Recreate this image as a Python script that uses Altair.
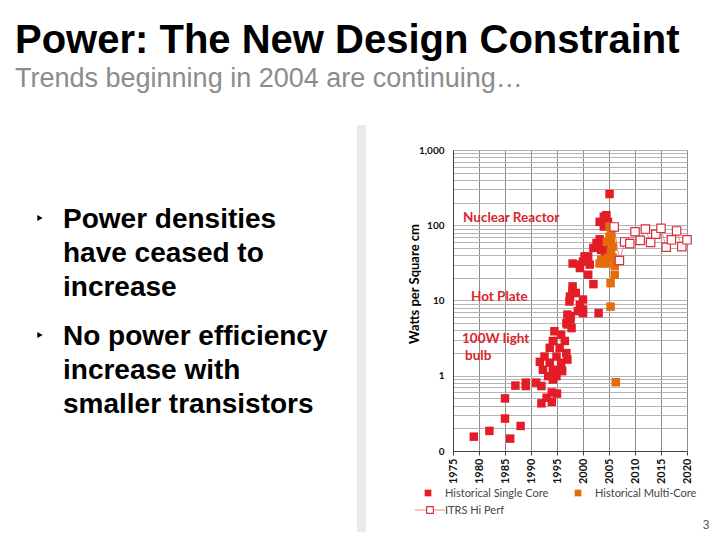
import altair as alt
import pandas as pd

# ---------------- data ----------------
single_year = [1979, 1982, 1986, 1988, 1985, 1985, 1987, 1989, 1989, 1991, 1992, 1992, 1993, 1994, 1994, 1995,
               1991.7, 1992.6, 1992.3, 1993.3, 1993.6, 1993.6, 1994.2, 1994.2, 1994.2, 1994.5, 1994.9, 1994.9,
               1995.5, 1995.8, 1995.8, 1995.8, 1996.5, 1996.8, 1996.8, 1997.0, 1997.6, 1997.8, 1997.0, 1997.6,
               1997.0, 1997.5, 1997.4, 1996.0, 1994.5,
               1998.0, 1998.0, 1998.0, 1998.6, 1999.4, 2000.0, 2000.0, 1999.0, 2000.0, 2003.0,
               1998.0, 1999.4, 1999.4, 2000.0, 2000.3, 2000.6, 2001.0, 2001.3, 2001.0, 2002.0, 2002.0, 2002.6,
               2003.2, 2003.2, 2004.0, 2004.5, 2004.8, 2005.1, 2004.2, 2003.5, 2004.0, 2004.0]
single_watts = [0.155, 0.185, 0.146, 0.215, 0.27, 0.50, 0.74, 0.81, 0.73, 0.81, 0.73, 0.43, 0.51, 0.60, 0.45, 0.58,
                1.53, 1.8, 1.2, 0.99, 1.49, 2.35, 0.89, 1.15, 2.9, 3.9, 0.99, 1.8,
                2.35, 1.2, 1.49, 3.5, 2.9, 2.0, 5.0, 1.64, 6.2, 4.3, 4.8, 5.6,
                6.5, 11.3, 9.7, 1.15, 1.2,
                12.6, 13.2, 15.4, 12.6, 8.8, 7.6, 10.3, 7.2, 6.8, 6.8,
                31, 27, 30, 33, 38.5, 34.8, 22, 30, 38.5, 16.5, 50, 58,
                65, 111, 130, 136, 111, 260, 40, 47, 52, 96]

multi_year = [2005.1, 2005.4, 2005.4, 2005.7, 2005.4, 2004.8, 2003.5, 2003.2, 2004.5, 2005.7, 2006.1, 2006.1,
              2005.3, 2005.3, 2006.3, 2005.1, 2004.6]
multi_watts = [96, 78, 64, 52, 45, 37, 35, 31, 31, 37, 29, 22, 17, 8.3, 0.82, 70, 60]

itrs_year = [2006, 2007, 2008, 2009, 2010, 2011, 2012, 2013, 2014, 2015, 2016, 2017, 2018, 2019, 2020]
itrs_watts = [95, 34, 60, 57, 82, 63, 89, 59, 76, 91, 51, 64, 84, 52, 64]

x_ticks = [1975, 1980, 1985, 1990, 1995, 2000, 2005, 2010, 2015, 2020]
y_grid = [0.1, 0.2, 0.3, 0.4, 0.5, 0.6, 0.7, 0.8, 0.9,
          1, 2, 3, 4, 5, 6, 7, 8, 9,
          10, 20, 30, 40, 50, 60, 70, 80, 90,
          100, 200, 300, 400, 500, 600, 700, 800, 900, 1000]

# ---------------- layout ----------------
W, H = 234, 301
OX, OY = 453, 150  # page position of the plot area's top-left corner

RED = "#e31c26"
ORANGE = "#e46c0a"
ITRS = "#d8313b"
CHART_FONT = "Lato"
SLIDE_FONT = "Liberation Sans"

df_single = pd.DataFrame({"year": single_year, "watts": single_watts})
df_multi = pd.DataFrame({"year": multi_year, "watts": multi_watts})
df_itrs = pd.DataFrame({"year": itrs_year, "watts": itrs_watts})

x_enc = alt.X("year:Q",
              scale=alt.Scale(domain=[1975, 2020], nice=False, zero=False),
              axis=alt.Axis(values=x_ticks, format="d", labelAngle=270, title=None,
                            grid=True, gridColor="#8c8c8c", gridWidth=1,
                            tickSize=4, tickColor="#444", domainColor="#444",
                            labelFont=CHART_FONT, labelFontWeight="bold", labelFontSize=11,
                            labelColor="#111", labelPadding=3))
y_enc = alt.Y("watts:Q",
              scale=alt.Scale(type="log", domain=[0.1, 1000], nice=False),
              axis=alt.Axis(values=y_grid, title=None,
                            labelExpr="datum.value == 0.1 ? '0' : (indexof([1, 10, 100, 1000], datum.value) >= 0 ? format(datum.value, ',') : '')",
                            grid=True, gridColor="#b4b4b4", gridWidth=1,
                            ticks=False, domainColor="#444",
                            labelFont=CHART_FONT, labelFontWeight="bold", labelFontSize=10,
                            labelColor="#111", labelPadding=9))

single = alt.Chart(df_single).mark_square(size=72, color=RED, opacity=1).encode(x=x_enc, y=y_enc)
multi = alt.Chart(df_multi).mark_square(size=72, color=ORANGE, opacity=1).encode(x=x_enc, y=y_enc)
itrs_line = alt.Chart(df_itrs).mark_line(color="#e88a8f", strokeWidth=1).encode(x=x_enc, y=y_enc)
itrs_pts = alt.Chart(df_itrs).mark_square(size=70, filled=False, fill="white", fillOpacity=1,
                                          stroke=ITRS, strokeWidth=1.2, opacity=1).encode(x=x_enc, y=y_enc)


def label(text, x, y, size, color="black", weight="normal", font=SLIDE_FONT, align="left", angle=0):
    return alt.Chart(pd.DataFrame({"t": [text]})).mark_text(
        align=align, baseline="alphabetic", fontSize=size, font=font, fontWeight=weight,
        color=color, angle=angle
    ).encode(x=alt.value(x - OX), y=alt.value(y - OY), text="t:N")


def square(x, y, color, filled=True):
    if filled:
        m = alt.Chart(pd.DataFrame({"a": [0]})).mark_square(size=45, color=color, opacity=1)
    else:
        m = alt.Chart(pd.DataFrame({"a": [0]})).mark_square(size=45, filled=False, fill="white",
                                                          fillOpacity=1, stroke=color, strokeWidth=1.2)
    return m.encode(x=alt.value(x - OX), y=alt.value(y - OY))


def bullet(x, y):
    return alt.Chart(pd.DataFrame({"a": [0]})).mark_point(
        shape="triangle-right", filled=True, size=38, color="black", opacity=1
    ).encode(x=alt.value(x - OX), y=alt.value(y - OY))


band = alt.Chart(pd.DataFrame({"a": [0]})).mark_rect(color="#ebebeb").encode(
    x=alt.value(357 - OX), x2=alt.value(366 - OX), y=alt.value(125 - OY), y2=alt.value(540 - OY))

legend_line = alt.Chart(pd.DataFrame({"a": [0]})).mark_rule(color="#e88a8f", strokeWidth=1).encode(
    x=alt.value(415 - OX), x2=alt.value(445 - OX), y=alt.value(510 - OY))

slide = [
    band,
    label("Power: The New Design Constraint", 15, 53, 40, weight="bold"),
    label("Trends beginning in 2004 are continuing…", 15, 87, 27, color="#8c8c8c"),
    bullet(40, 218),
    label("Power densities", 63, 228, 28, weight="bold"),
    label("have ceased to", 63, 262, 28, weight="bold"),
    label("increase", 63, 296, 28, weight="bold"),
    bullet(40, 335),
    label("No power efficiency", 63, 345, 28, weight="bold"),
    label("increase with", 63, 379, 28, weight="bold"),
    label("smaller transistors", 63, 413, 28, weight="bold"),
    label("3", 706, 529, 12, color="#555", align="center"),
    # chart annotations
    label("Watts per Square cm", 419, 284, 13, weight="bold", font=CHART_FONT, align="center", angle=270),
    label("Nuclear Reactor", 463, 222, 13.5, color="#d9262e", weight="bold", font=CHART_FONT),
    label("Hot Plate", 471, 301, 13.5, color="#d9262e", weight="bold", font=CHART_FONT),
    label("100W light", 462, 343, 13.5, color="#d9262e", weight="bold", font=CHART_FONT),
    label("bulb", 465, 360, 13.5, color="#d9262e", weight="bold", font=CHART_FONT),
    # legend
    square(428, 493, RED),
    label("Historical Single Core", 445, 497, 11, color="#444", font=CHART_FONT),
    square(578, 493, ORANGE),
    label("Historical Multi-Core", 595, 497, 11, color="#444", font=CHART_FONT),
    legend_line,
    square(430, 510, ITRS, filled=False),
    label("ITRS Hi Perf", 445, 514, 11, color="#444", font=CHART_FONT),
]

chart = alt.layer(itrs_line, single, multi, itrs_pts, *slide).properties(
    width=W, height=H,
    padding={"left": OX - 8, "top": OY - 8, "right": 704 - (OX - 8) - W, "bottom": 524 - (OY - 8) - H},
    autosize=alt.AutoSizeParams(type="none"),
    background="white",
).configure_view(stroke=None)

chart.save("out.html", embed_options={"renderer": "svg", "actions": False})
